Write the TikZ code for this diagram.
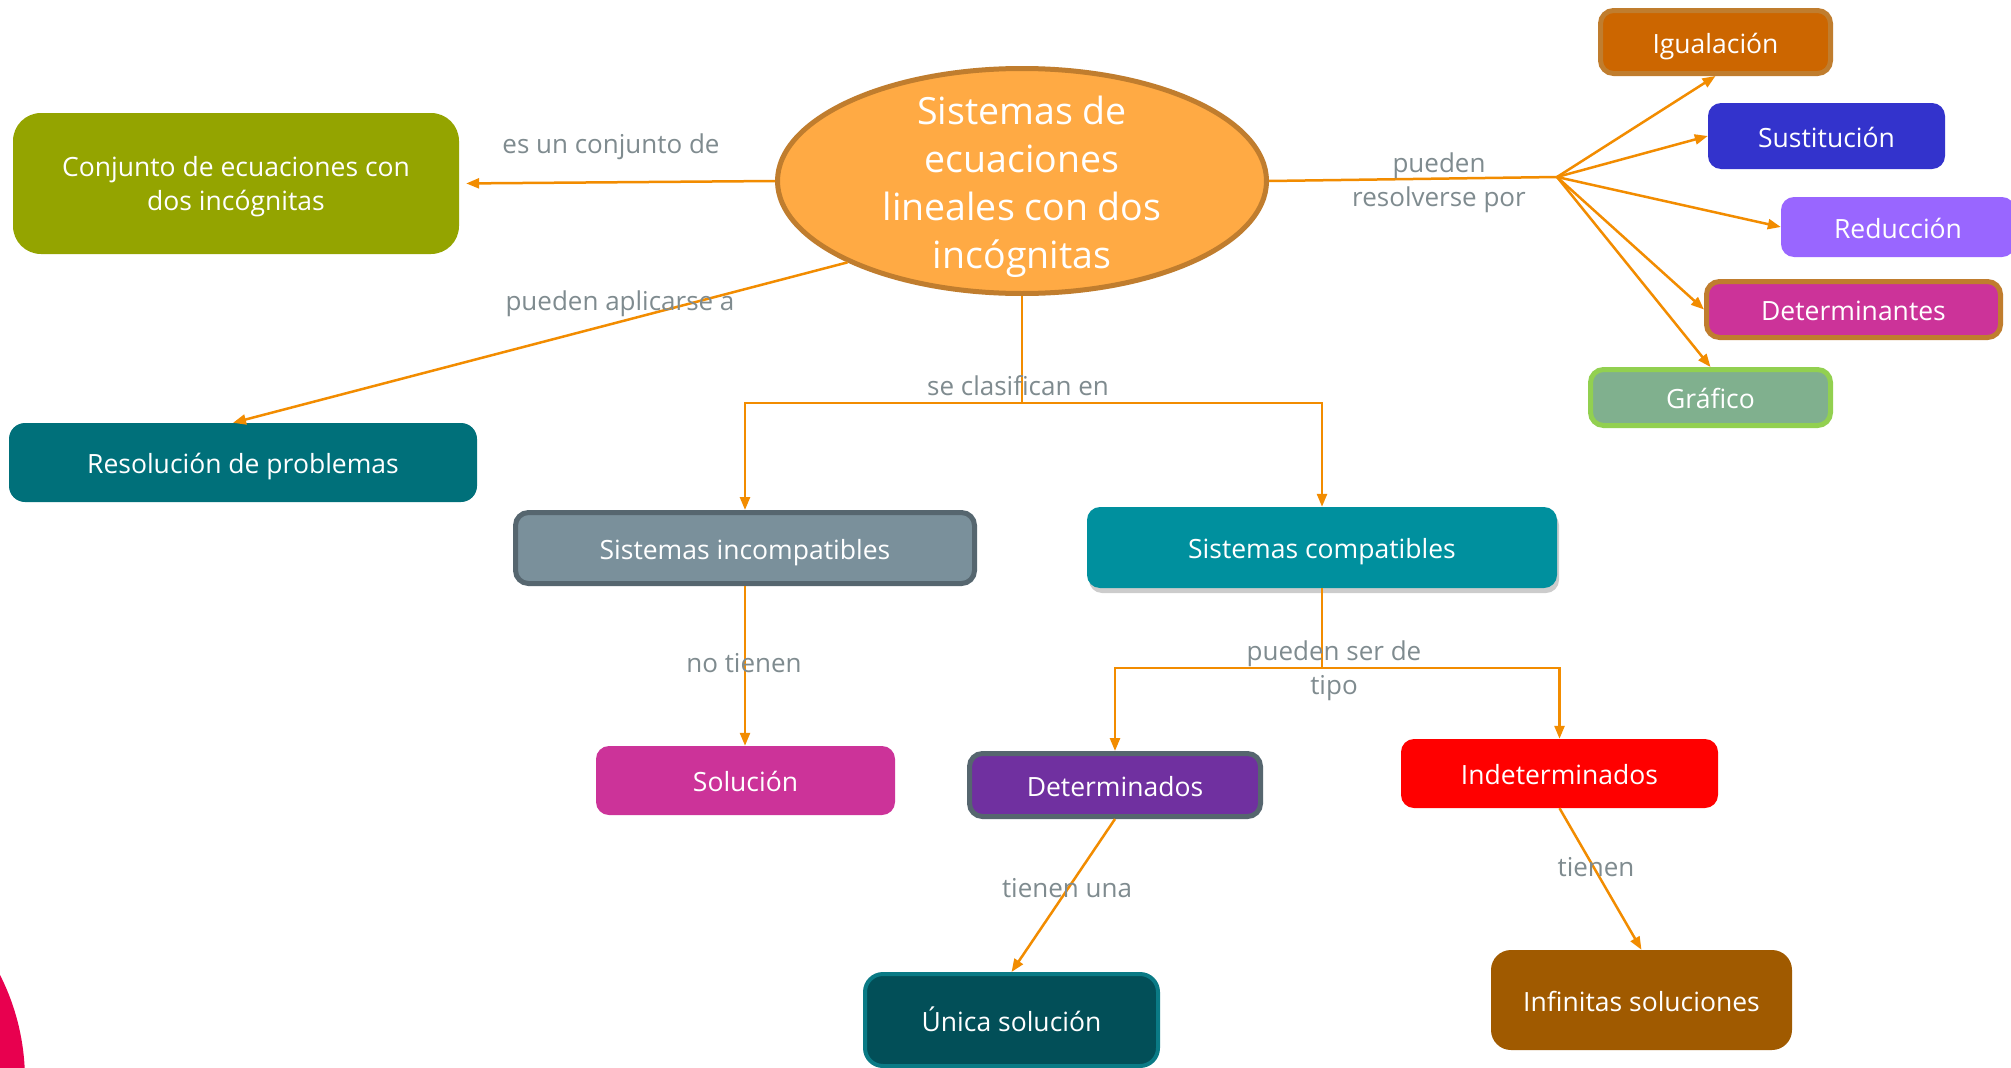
\documentclass[tikz,border=0pt]{standalone}
\usepackage{fontspec}
\setmainfont{Open Sans}
\usetikzlibrary{arrows.meta,shapes.geometric,shadows}
\definecolor{orl}{HTML}{F28C00}
\definecolor{lblgray}{HTML}{7F8B8F}
\definecolor{olivec}{HTML}{94A400}
\definecolor{ellfill}{HTML}{FFAA44}
\definecolor{ellborder}{HTML}{C07D2E}
\definecolor{brownb}{HTML}{C07D2E}
\definecolor{igualc}{HTML}{CC6600}
\definecolor{sustc}{HTML}{3333CC}
\definecolor{reducc}{HTML}{9966FF}
\definecolor{magc}{HTML}{CC3399}
\definecolor{grafc}{HTML}{80B08E}
\definecolor{grafb}{HTML}{92D050}
\definecolor{resolc}{HTML}{00707A}
\definecolor{incompc}{HTML}{7A909B}
\definecolor{slateb}{HTML}{56666F}
\definecolor{compatc}{HTML}{00909E}
\definecolor{purplec}{HTML}{7030A0}
\definecolor{redc}{HTML}{FF0000}
\definecolor{unicac}{HTML}{024F58}
\definecolor{unicab}{HTML}{0A7A85}
\definecolor{infinc}{HTML}{A05A00}
\definecolor{pinkc}{HTML}{E8004F}
\newcommand\nodefont{\fontsize{26.5pt}{34pt}\selectfont}
\newcommand\ellfont{\fontsize{37.5pt}{48pt}\selectfont}
\newcommand\lblfont{\fontsize{26pt}{34pt}\selectfont}
\tikzset{
  box/.style={rectangle, rounded corners=13pt, text=white, font=\nodefont, inner sep=0pt, align=center},
  onel/.style={box, text height=22pt, text depth=0pt},
  lnk/.style={draw=orl, line width=2.5pt, -{Triangle[length=13pt,width=10pt]}},
  ln/.style={draw=orl, line width=2.5pt},
  lbl/.style={text=lblgray, font=\lblfont, align=center, inner sep=0pt},
}
\begin{document}
\begin{tikzpicture}[x=1pt,y=-1pt]
\useasboundingbox (0,0) rectangle (2011,1068);
\clip (0,0) rectangle (2011,1068);
\fill[white] (0,0) rectangle (2011,1068);
\fill[pinkc] (-208,1080) circle (233);

% central ellipse
\node[ellipse, fill=ellfill, draw=ellborder, line width=5pt, minimum width=489pt, minimum height=225pt, inner sep=0pt] (ell) at (1022,181) {};
\node[text=white, font=\ellfont, align=center, inner sep=0pt] (ellt) at ([yshift=-6pt]ell.center) {Sistemas de\\ecuaciones\\lineales con dos\\incógnitas};

% nodes
\node[box, text depth=0pt, fill=olivec, minimum width=446pt, minimum height=141pt, rounded corners=28pt] (conj) at (236,183.5) {Conjunto de ecuaciones con\\dos incógnitas};
\node[onel, fill=resolc, minimum width=468pt, minimum height=79pt, rounded corners=16pt] (resol) at (243,462.5) {Resolución de problemas};

\node[onel, fill=igualc, draw=brownb, line width=5pt, minimum width=230pt, minimum height=63pt] (igual) at (1715.5,42) {Igualación};
\node[onel, fill=sustc, minimum width=237pt, minimum height=66pt] (sust) at (1826.5,136) {Sustitución};
\node[onel, fill=reducc, minimum width=234pt, minimum height=60pt] (reduc) at (1898,227) {Reducción};
\node[onel, fill=magc, draw=brownb, line width=5pt, minimum width=294pt, minimum height=56pt] (deter) at (1853.5,309.5) {Determinantes};
\node[onel, fill=grafc, draw=grafb, line width=5pt, minimum width=240pt, minimum height=56pt] (graf) at (1710.5,397.5) {Gráfico};

\node[onel, fill=incompc, draw=slateb, line width=5pt, minimum width=459pt, minimum height=71pt] (incomp) at (745,548) {Sistemas incompatibles};
\node[onel, fill=compatc, minimum width=470pt, minimum height=81pt, drop shadow={shadow xshift=2pt, shadow yshift=-5pt, opacity=0.2, fill=black}] (compat) at (1322,547.5) {Sistemas compatibles};

\node[onel, fill=magc, minimum width=299pt, minimum height=69pt] (soluc) at (745.5,780.5) {Solución};
\node[onel, fill=purplec, draw=slateb, line width=5pt, minimum width=291pt, minimum height=63pt] (determ) at (1115,785) {Determinados};
\node[onel, fill=redc, minimum width=317pt, minimum height=69pt] (indet) at (1559.5,773.5) {Indeterminados};
\node[onel, fill=unicac, draw=unicab, line width=4pt, minimum width=293pt, minimum height=92pt, rounded corners=18pt] (unica) at (1011.5,1020) {Única solución};
\node[onel, fill=infinc, minimum width=301pt, minimum height=100pt, rounded corners=20pt] (infin) at (1641.5,1000) {Infinitas soluciones};

% junction points
\coordinate (br) at (1557,177);
\coordinate (hub1) at (1022,403);
\coordinate (hub2) at (1322,668);

% connectors
\draw[lnk, shorten >=7pt] (ell.west) -- (conj.east);
\draw[lnk] (ell.205) -- ([xshift=-10pt]resol.north);
\draw[ln] (ell.east) -- (br);
\draw[lnk] (br) -- (igual.south);
\draw[lnk] (br) -- (sust.west);
\draw[lnk] (br) -- (reduc.west);
\draw[lnk] (br) -- (deter.west);
\draw[lnk] (br) -- (graf.north);
\draw[ln] (ell.south) -- (hub1);
\draw[lnk] (hub1) -| (incomp.north);
\draw[lnk] (hub1) -| (compat.north);
\draw[lnk] (incomp.south) -- (incomp.south |- soluc.north);
\draw[ln] (compat.south) -- (hub2);
\draw[lnk] (hub2) -| (determ.north);
\draw[lnk] (hub2) -| (indet.north);
\draw[lnk] (determ.south) -- (unica.north);
\draw[lnk] (indet.south) -- (infin.north);

% labels
\node[lbl] (l1) at (611,147) {es un conjunto de};
\node[lbl] (l2) at (620,304) {pueden aplicarse a};
\node[lbl] (l3) at (1439,183) {pueden\\resolverse por};
\node[lbl] (l4) at (1018,386) {se clasifican en};
\node[lbl] (l5) at (744,663) {no tienen};
\node[lbl] (l6) at (1334,671) {pueden ser de\\tipo};
\node[lbl] (l7) at (1067,888) {tienen una};
\node[lbl] (l8) at (1596,867) {tienen};
\end{tikzpicture}
\end{document}
